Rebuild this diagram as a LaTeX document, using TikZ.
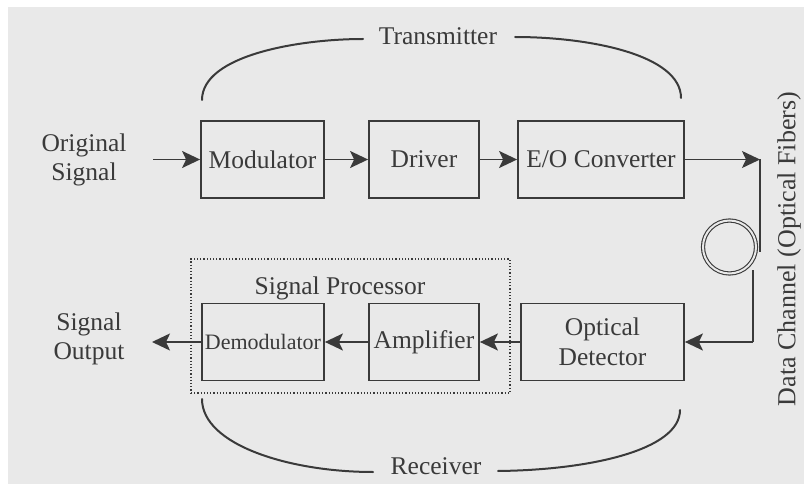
\documentclass[tikz,border=0pt]{standalone}
\usepackage{fontspec}
\setmainfont{Liberation Serif}
\usetikzlibrary{arrows.meta}
\definecolor{paper}{RGB}{233,233,233}
\definecolor{ink}{RGB}{58,58,58}
\begin{document}
\begin{tikzpicture}[x=1pt,y=-1pt,
  blk/.style={draw=ink, line width=1.8pt, inner sep=0pt, minimum height=77pt, text=ink,
    font=\fontsize{25.5}{30}\selectfont, align=center},
  lbl/.style={text=ink, font=\fontsize{25.5}{29}\selectfont, align=center, inner sep=0pt},
  arr/.style={draw=ink, line width=1.8pt, -{Stealth[length=18pt,width=17pt,inset=4pt]}},
  ln/.style={draw=ink, line width=1.8pt},
  brace/.style={draw=ink, line width=2pt, line cap=round},
]
\fill[white] (0,0) rectangle (804,484);
\fill[paper] (8,7) rectangle (804,484);
\useasboundingbox (0,0) rectangle (804,484);

% blocks
\node[blk, minimum width=123pt] (mod) at (262.5,159.5) {Modulator};
\node[blk, minimum width=110pt] (drv) at (424,159.5) {Driver};
\node[blk, minimum width=166pt] (eo) at (601,159.5) {E/O Converter};
\node[blk, minimum width=163pt] (od) at (602.5,342) {Optical\\Detector};
\node[blk, minimum width=110pt] (amp) at (424,342) {Amplifier};
\node[blk, minimum width=122pt, font=\fontsize{22}{26}\selectfont] (dem) at (263,342) {Demodulator};

% dotted signal processor frame
\node[draw=ink, line width=1.2pt, dotted, minimum width=319pt, minimum height=134pt, inner sep=0pt] (spbox) at (350.5,326) {};

% labels
\node[lbl] (orig) at (84,160) {Original\\Signal};
\node[lbl] (out) at (89,339) {Signal\\Output};
\node[lbl] (tx) at (438,36) {Transmitter};
\node[lbl] (rx) at (436,466) {Receiver};
\node[lbl] (sp) at (340,288) {Signal Processor};
\node[lbl, rotate=90, font=\fontsize{26}{30}\selectfont] (dch) at (789,249) {Data Channel (Optical Fibers)};

% fiber coil
\node[circle, draw=ink, line width=1.1pt, double=paper, double distance=2pt,
      minimum size=53pt, inner sep=0pt] (coil) at (729.5,247) {};

% coordinates
\coordinate (in) at (153,159.5);
\coordinate (o1) at (152,342);
\coordinate (f1) at (760,159.5);
\coordinate (f2) at (760,252);
\coordinate (f3) at (753,270);
\coordinate (f4) at (753,342);
\coordinate (ta) at (202,100);
\coordinate (tb) at (363,39);
\coordinate (tc) at (515,37);
\coordinate (td) at (681,98);
\coordinate (ra) at (202,399);
\coordinate (rb) at (373,472);
\coordinate (rc) at (498,471);
\coordinate (rd) at (680,410);

% connectors
\draw[arr] (in) -- (mod.west);
\draw[arr] (mod) -- (drv);
\draw[arr] (drv) -- (eo);
\draw[arr] (eo.east) -- (f1);
\draw[ln] (f1) -- (f2);
\draw[ln] (f3) -- (f4);
\draw[arr] (f4) -- (od.east);
\draw[arr] (od) -- (amp);
\draw[arr] (amp) -- (dem);
\draw[arr] (dem.west) -- (o1);

% transmitter / receiver brackets
\draw[brace] (ta) .. controls (202,55) and (300,39) .. (tb);
\draw[brace] (tc) .. controls (590,37) and (681,55) .. (td);
\draw[brace] (ra) .. controls (202,445) and (290,472) .. (rb);
\draw[brace] (rc) .. controls (590,470) and (680,450) .. (rd);
\end{tikzpicture}
\end{document}
